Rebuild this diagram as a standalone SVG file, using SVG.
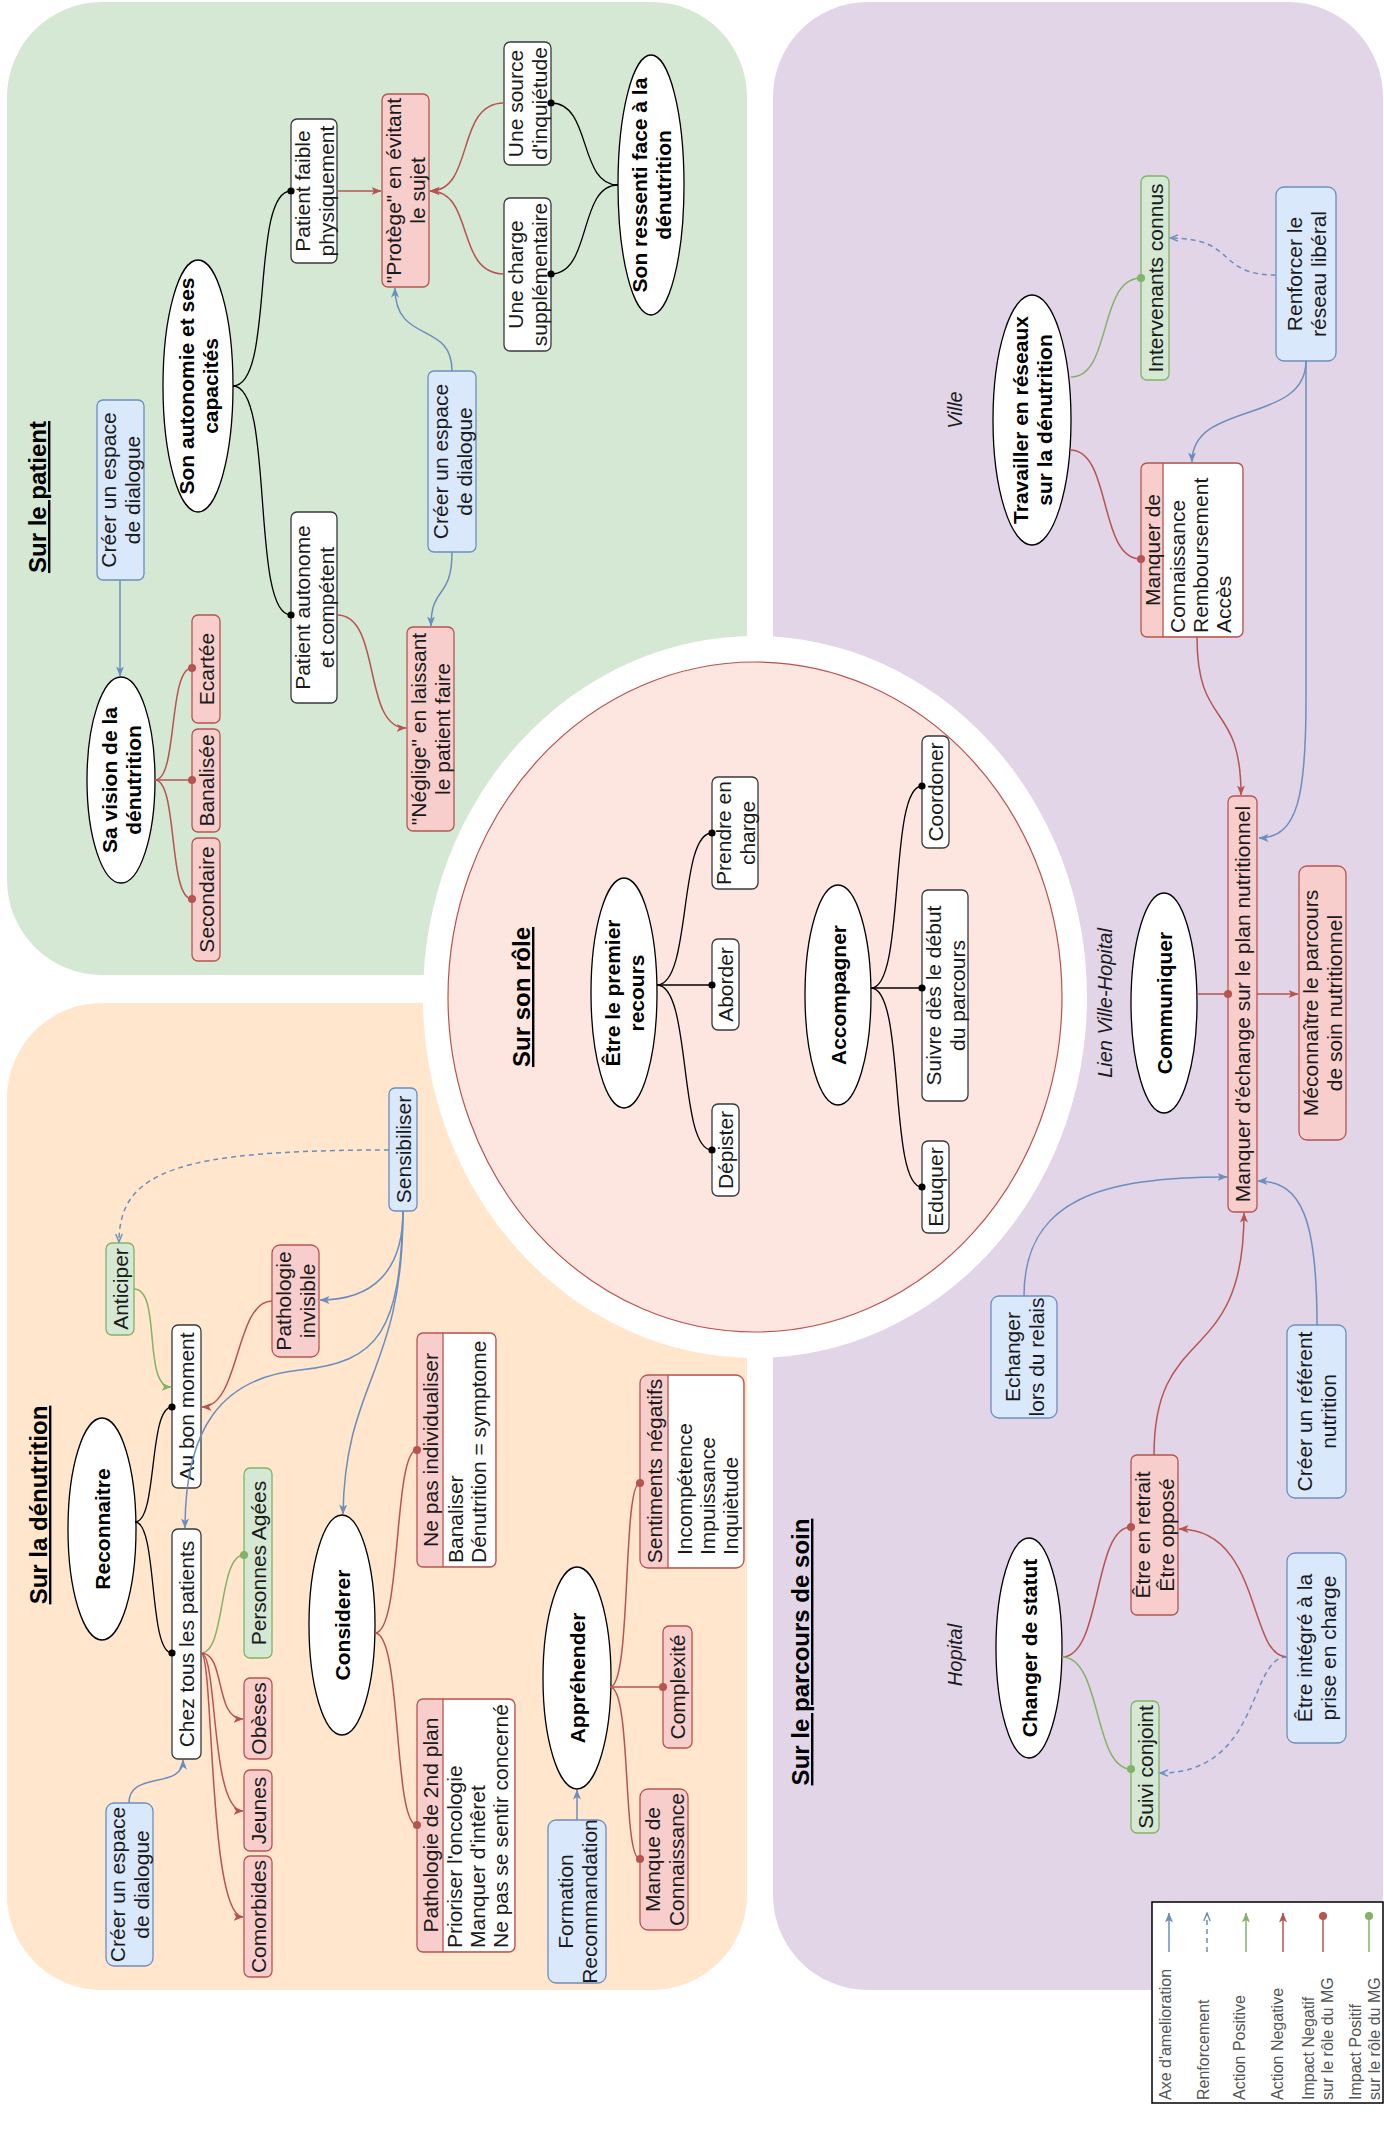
<svg xmlns="http://www.w3.org/2000/svg" width="1384" height="2134" viewBox="0 0 1384 2134">
<style>
.t{font-family:"Liberation Sans",Arial,sans-serif;font-size:21px;fill:#1a1a1a;text-anchor:middle}
.ts{font-family:"Liberation Sans",Arial,sans-serif;font-size:21px;fill:#1a1a1a;text-anchor:start}
.tb{font-family:"Liberation Sans",Arial,sans-serif;font-size:21px;font-weight:bold;fill:#000;text-anchor:middle}
.ti{font-family:"Liberation Sans",Arial,sans-serif;font-size:20px;font-style:italic;fill:#1a1a1a;text-anchor:middle}
.title{font-family:"Liberation Sans",Arial,sans-serif;font-size:24px;font-weight:bold;fill:#000;text-anchor:middle;text-decoration:underline}
.lg{font-family:"Liberation Sans",Arial,sans-serif;font-size:16px;fill:#555;text-anchor:start}
.r{fill:#f8cecc;stroke:#b85450;stroke-width:1.3}
.b{fill:#dae8fc;stroke:#6c8ebf;stroke-width:1.3}
.g{fill:#d5e8d4;stroke:#82b366;stroke-width:1.3}
.w{fill:#fff;stroke:#36393d;stroke-width:1.3}
.e{fill:#fff;stroke:#000;stroke-width:1.3}
.cb{fill:none;stroke:#6c8ebf;stroke-width:1.5}
.cr{fill:none;stroke:#b85450;stroke-width:1.5}
.cg{fill:none;stroke:#82b366;stroke-width:1.5}
.ck{fill:none;stroke:#000;stroke-width:1.3}
.dash{stroke-dasharray:5 4}
</style>
<defs>
<marker id="aB" viewBox="0 0 10 8" refX="9.5" refY="4" markerWidth="10" markerHeight="8" markerUnits="userSpaceOnUse" orient="auto"><path d="M0,0 L10,4 L0,8 L2.5,4 z" fill="#6c8ebf"/></marker>
<marker id="aR" viewBox="0 0 10 8" refX="9.5" refY="4" markerWidth="10" markerHeight="8" markerUnits="userSpaceOnUse" orient="auto"><path d="M0,0 L10,4 L0,8 L2.5,4 z" fill="#b85450"/></marker>
<marker id="aG" viewBox="0 0 10 8" refX="9.5" refY="4" markerWidth="10" markerHeight="8" markerUnits="userSpaceOnUse" orient="auto"><path d="M0,0 L10,4 L0,8 L2.5,4 z" fill="#82b366"/></marker>
<marker id="oB" viewBox="0 0 10 8" refX="9" refY="4" markerWidth="10" markerHeight="8" markerUnits="userSpaceOnUse" orient="auto"><path d="M1,0.8 L9,4 L1,7.2" fill="none" stroke="#6c8ebf" stroke-width="1.4"/></marker>
<marker id="dR" viewBox="0 0 10 10" refX="5" refY="5" markerWidth="9" markerHeight="9" markerUnits="userSpaceOnUse"><circle cx="5" cy="5" r="4.5" fill="#b85450"/></marker>
<marker id="dG" viewBox="0 0 10 10" refX="5" refY="5" markerWidth="9" markerHeight="9" markerUnits="userSpaceOnUse"><circle cx="5" cy="5" r="4.5" fill="#82b366"/></marker>
<marker id="dK" viewBox="0 0 10 10" refX="5" refY="5" markerWidth="8" markerHeight="8" markerUnits="userSpaceOnUse"><circle cx="5" cy="5" r="4.5" fill="#000"/></marker>
</defs>

<g id="panels">
<rect x="7" y="2" width="740" height="973" rx="95" fill="#d5e8d4"/>
<rect x="7" y="1003" width="740" height="987" rx="95" fill="#ffe6cc"/>
<rect x="773" y="2" width="610" height="1988" rx="95" fill="#e1d5e7"/>
<ellipse cx="755" cy="997" rx="332" ry="361" fill="#fff"/>
<ellipse cx="755" cy="997" rx="307" ry="335" fill="#fde5e0" stroke="#b85450" stroke-width="1.2"/>
</g>

<!-- Sur le patient -->
<g id="title-patient"><text class="title" transform="translate(46,497) rotate(-90)">Sur le patient</text></g>
<g id="n-creer1"><rect class="b" x="97" y="400" width="47" height="180" rx="6"/><text class="t" transform="translate(120.5,490) rotate(-90)"><tspan x="0" y="-4.5">Créer un espace</tspan><tspan x="0" y="19.5">de dialogue</tspan></text></g>
<g id="n-vision"><ellipse class="e" cx="121" cy="780" rx="34" ry="103"/><text class="tb" transform="translate(121,780) rotate(-90)"><tspan x="0" y="-4.5">Sa vision de la</tspan><tspan x="0" y="19.5">dénutrition</tspan></text></g>
<g id="n-ecartee"><rect class="r" x="192" y="615" width="28" height="108" rx="6"/><text class="t" transform="translate(206,669) rotate(-90)" y="7.5">Ecartée</text></g>
<g id="n-banalisee"><rect class="r" x="192" y="729" width="28" height="103" rx="6"/><text class="t" transform="translate(206,780.5) rotate(-90)" y="7.5">Banalisée</text></g>
<g id="n-secondaire"><rect class="r" x="192" y="838" width="28" height="123" rx="6"/><text class="t" transform="translate(206,899.5) rotate(-90)" y="7.5">Secondaire</text></g>
<g id="n-autonomie"><ellipse class="e" cx="198" cy="386" rx="35" ry="126"/><text class="tb" transform="translate(198,386) rotate(-90)"><tspan x="0" y="-4.5">Son autonomie et ses</tspan><tspan x="0" y="19.5">capacités</tspan></text></g>
<g id="n-faible"><rect class="w" x="291" y="119" width="46" height="144" rx="6"/><text class="t" transform="translate(314,191) rotate(-90)"><tspan x="0" y="-4.5">Patient faible</tspan><tspan x="0" y="19.5">physiquement</tspan></text></g>
<g id="n-autonome"><rect class="w" x="291" y="512" width="46" height="191" rx="6"/><text class="t" transform="translate(314,607.5) rotate(-90)"><tspan x="0" y="-4.5">Patient autonome</tspan><tspan x="0" y="19.5">et compétent</tspan></text></g>
<g id="n-protege"><rect class="r" x="382" y="94" width="47" height="193" rx="6"/><text class="t" transform="translate(405.5,190.5) rotate(-90)"><tspan x="0" y="-4.5">"Protège" en évitant</tspan><tspan x="0" y="19.5">le sujet</tspan></text></g>
<g id="n-creer2"><rect class="b" x="428" y="371" width="48" height="181" rx="6"/><text class="t" transform="translate(452,461.5) rotate(-90)"><tspan x="0" y="-4.5">Créer un espace</tspan><tspan x="0" y="19.5">de dialogue</tspan></text></g>
<g id="n-neglige"><rect class="r" x="407" y="627" width="47" height="204" rx="6"/><text class="t" transform="translate(430.5,729) rotate(-90)"><tspan x="0" y="-4.5">"Néglige" en laissant</tspan><tspan x="0" y="19.5">le patient faire</tspan></text></g>
<g id="n-charge"><rect class="w" x="504" y="198" width="47" height="153" rx="6"/><text class="t" transform="translate(527.5,274.5) rotate(-90)"><tspan x="0" y="-4.5">Une charge</tspan><tspan x="0" y="19.5">supplémentaire</tspan></text></g>
<g id="n-source"><rect class="w" x="504" y="42" width="47" height="123" rx="6"/><text class="t" transform="translate(527.5,103.5) rotate(-90)"><tspan x="0" y="-4.5">Une source</tspan><tspan x="0" y="19.5">d'inquiétude</tspan></text></g>
<g id="n-ressenti"><ellipse class="e" cx="651" cy="185" rx="33" ry="130"/><text class="tb" transform="translate(651,185) rotate(-90)"><tspan x="0" y="-4.5">Son ressenti face à la</tspan><tspan x="0" y="19.5">dénutrition</tspan></text></g>

<!-- Sur son role -->
<g id="title-role"><text class="title" transform="translate(530,997) rotate(-90)">Sur son rôle</text></g>
<g id="n-recours"><ellipse class="e" cx="624" cy="993" rx="33" ry="115"/><text class="tb" transform="translate(624,993) rotate(-90)"><tspan x="0" y="-4.5">Être le premier</tspan><tspan x="0" y="19.5">recours</tspan></text></g>
<g id="n-prendre"><rect class="w" x="712" y="777" width="46" height="112" rx="6"/><text class="t" transform="translate(735,833) rotate(-90)"><tspan x="0" y="-4.5">Prendre en</tspan><tspan x="0" y="19.5">charge</tspan></text></g>
<g id="n-aborder"><rect class="w" x="712" y="939" width="27" height="91" rx="6"/><text class="t" transform="translate(725.5,984.5) rotate(-90)" y="7.5">Aborder</text></g>
<g id="n-depister"><rect class="w" x="712" y="1104" width="27" height="92" rx="6"/><text class="t" transform="translate(725.5,1150) rotate(-90)" y="7.5">Dépister</text></g>
<g id="n-accompagner"><ellipse class="e" cx="838" cy="995" rx="33" ry="110"/><text class="tb" transform="translate(838,995) rotate(-90)" y="7.5">Accompagner</text></g>
<g id="n-coordoner"><rect class="w" x="922" y="736" width="27" height="112" rx="6"/><text class="t" transform="translate(935.5,792) rotate(-90)" y="7.5">Coordoner</text></g>
<g id="n-suivre"><rect class="w" x="922" y="890" width="46" height="211" rx="6"/><text class="t" transform="translate(945,995.5) rotate(-90)"><tspan x="0" y="-4.5">Suivre dès le début</tspan><tspan x="0" y="19.5">du parcours</tspan></text></g>
<g id="n-eduquer"><rect class="w" x="922" y="1141" width="27" height="92" rx="6"/><text class="t" transform="translate(935.5,1187) rotate(-90)" y="7.5">Eduquer</text></g>

<!-- Sur le parcours de soin -->
<g id="lbl-ville"><text class="ti" transform="translate(955,410) rotate(-90)" y="7">Ville</text></g>
<g id="n-reseaux"><ellipse class="e" cx="1032" cy="420" rx="39" ry="125"/><text class="tb" transform="translate(1032,420) rotate(-90)"><tspan x="0" y="-4.5">Travailler en réseaux</tspan><tspan x="0" y="19.5">sur la dénutrition</tspan></text></g>
<g id="n-intervenants"><rect class="g" x="1141" y="176" width="28" height="204" rx="6"/><text class="t" transform="translate(1155,278) rotate(-90)" y="7.5">Intervenants connus</text></g>
<g id="n-renforcer"><rect class="b" x="1276" y="187" width="60" height="174" rx="8"/><text class="t" transform="translate(1306,274) rotate(-90)"><tspan x="0" y="-4.5">Renforcer le</tspan><tspan x="0" y="19.5">réseau libéral</tspan></text></g>
<g id="n-manquerde">
<rect x="1141" y="463" width="102" height="174" rx="6" fill="#f8cecc"/>
<rect x="1163" y="464" width="79" height="172" rx="5" fill="#fff"/>
<rect x="1163" y="464" width="10" height="172" fill="#fff"/>
<line x1="1163" y1="463" x2="1163" y2="637" stroke="#b85450" stroke-width="1.3"/>
<rect x="1141" y="463" width="102" height="174" rx="6" fill="none" stroke="#b85450" stroke-width="1.3"/>
<text class="t" transform="translate(1152,550) rotate(-90)" y="7.5">Manquer de</text>
<text class="ts" transform="translate(1177,633) rotate(-90)"><tspan x="0" y="7.5">Connaissance</tspan><tspan x="0" y="30.5">Remboursement</tspan><tspan x="0" y="53.5">Accès</tspan></text>
</g>
<g id="n-echange"><rect class="r" x="1228" y="796" width="29" height="416" rx="6"/><text class="t" transform="translate(1242.5,1004) rotate(-90)" y="7.5">Manquer d'échange sur le plan nutritionnel</text></g>
<g id="n-communiquer"><ellipse class="e" cx="1164" cy="1003" rx="33" ry="110"/><text class="tb" transform="translate(1164,1003) rotate(-90)" y="7.5">Communiquer</text></g>
<g id="lbl-lien"><text class="ti" transform="translate(1105,1003) rotate(-90)" y="7">Lien Ville-Hopital</text></g>
<g id="n-meconnaitre"><rect class="r" x="1299" y="866" width="47" height="274" rx="8"/><text class="t" transform="translate(1322.5,1003) rotate(-90)"><tspan x="0" y="-4.5">Méconnaître le parcours</tspan><tspan x="0" y="19.5">de soin nutritionnel</tspan></text></g>
<g id="n-echanger"><rect class="b" x="991" y="1296" width="66" height="122" rx="8"/><text class="t" transform="translate(1024,1357) rotate(-90)"><tspan x="0" y="-4.5">Echanger</tspan><tspan x="0" y="19.5">lors du relais</tspan></text></g>
<g id="n-referent"><rect class="b" x="1287" y="1325" width="59" height="173" rx="8"/><text class="t" transform="translate(1316.5,1411.5) rotate(-90)"><tspan x="0" y="-4.5">Créer un référent</tspan><tspan x="0" y="19.5">nutrition</tspan></text></g>
<g id="n-retrait"><rect class="r" x="1131" y="1455" width="47" height="160" rx="6"/><text class="t" transform="translate(1154.5,1535) rotate(-90)"><tspan x="0" y="-4.5">Être en retrait</tspan><tspan x="0" y="19.5">Être opposé</tspan></text></g>
<g id="n-statut"><ellipse class="e" cx="1029" cy="1648" rx="33" ry="110"/><text class="tb" transform="translate(1029,1648) rotate(-90)" y="7.5">Changer de statut</text></g>
<g id="n-suivi"><rect class="g" x="1131" y="1701" width="28" height="132" rx="6"/><text class="t" transform="translate(1145,1767) rotate(-90)" y="7.5">Suivi conjoint</text></g>
<g id="n-integre"><rect class="b" x="1287" y="1553" width="59" height="190" rx="8"/><text class="t" transform="translate(1316.5,1648) rotate(-90)"><tspan x="0" y="-4.5">Être intégré à la</tspan><tspan x="0" y="19.5">prise en charge</tspan></text></g>
<g id="lbl-hopital"><text class="ti" transform="translate(955,1655) rotate(-90)" y="7">Hopital</text></g>
<g id="title-parcours"><text class="title" transform="translate(809,1652) rotate(-90)">Sur le parcours de soin</text></g>

<!-- Sur la dénutrition -->
<g id="title-denutrition"><text class="title" transform="translate(47,1505) rotate(-90)">Sur la dénutrition</text></g>
<g id="n-reconnaitre"><ellipse class="e" cx="102" cy="1529" rx="34" ry="111"/><text class="tb" transform="translate(102,1529) rotate(-90)" y="7.5">Reconnaitre</text></g>
<g id="n-bonmoment"><rect class="w" x="172" y="1325" width="29" height="163" rx="6"/><text class="t" transform="translate(186.5,1406.5) rotate(-90)" y="7.5">Au bon moment</text></g>
<g id="n-tous"><rect class="w" x="172" y="1529" width="29" height="230" rx="6"/><text class="t" transform="translate(186.5,1644) rotate(-90)" y="7.5">Chez tous les patients</text></g>
<g id="n-anticiper"><rect class="g" x="106" y="1243" width="28" height="92" rx="6"/><text class="t" transform="translate(120,1289) rotate(-90)" y="7.5">Anticiper</text></g>
<g id="n-sensibiliser"><rect class="b" x="389" y="1088" width="28" height="123" rx="6"/><text class="t" transform="translate(403,1149.5) rotate(-90)" y="7.5">Sensibiliser</text></g>
<g id="n-invisible"><rect class="r" x="272" y="1245" width="47" height="112" rx="8"/><text class="t" transform="translate(295.5,1301) rotate(-90)"><tspan x="0" y="-4.5">Pathologie</tspan><tspan x="0" y="19.5">invisible</tspan></text></g>
<g id="n-agees"><rect class="g" x="244" y="1468" width="28" height="190" rx="6"/><text class="t" transform="translate(258,1563) rotate(-90)" y="7.5">Personnes Agées</text></g>
<g id="n-obeses"><rect class="r" x="244" y="1678" width="28" height="81" rx="6"/><text class="t" transform="translate(258,1718.5) rotate(-90)" y="7.5">Obèses</text></g>
<g id="n-jeunes"><rect class="r" x="244" y="1770" width="28" height="81" rx="6"/><text class="t" transform="translate(258,1810.5) rotate(-90)" y="7.5">Jeunes</text></g>
<g id="n-comorbides"><rect class="r" x="244" y="1856" width="28" height="121" rx="6"/><text class="t" transform="translate(258,1916.5) rotate(-90)" y="7.5">Comorbides</text></g>
<g id="n-creer3"><rect class="b" x="106" y="1803" width="47" height="163" rx="8"/><text class="t" transform="translate(129.5,1884.5) rotate(-90)"><tspan x="0" y="-4.5">Créer un espace</tspan><tspan x="0" y="19.5">de dialogue</tspan></text></g>
<g id="n-considerer"><ellipse class="e" cx="342" cy="1625" rx="33" ry="110"/><text class="tb" transform="translate(342,1625) rotate(-90)" y="7.5">Considerer</text></g>
<g id="n-individualiser">
<rect x="417" y="1333" width="79" height="234" rx="6" fill="#f8cecc"/>
<rect x="443" y="1334" width="52" height="232" rx="5" fill="#fff"/>
<rect x="443" y="1334" width="10" height="232" fill="#fff"/>
<line x1="443" y1="1333" x2="443" y2="1567" stroke="#b85450" stroke-width="1.3"/>
<rect x="417" y="1333" width="79" height="234" rx="6" fill="none" stroke="#b85450" stroke-width="1.3"/>
<text class="t" transform="translate(430,1450) rotate(-90)" y="7.5">Ne pas individualiser</text>
<text class="ts" transform="translate(455,1563) rotate(-90)"><tspan x="0" y="7.5">Banaliser</tspan><tspan x="0" y="30.5">Dénutrition = symptome</tspan></text>
</g>
<g id="n-secondplan">
<rect x="417" y="1699" width="98" height="253" rx="6" fill="#f8cecc"/>
<rect x="443" y="1700" width="71" height="251" rx="5" fill="#fff"/>
<rect x="443" y="1700" width="10" height="251" fill="#fff"/>
<line x1="443" y1="1699" x2="443" y2="1952" stroke="#b85450" stroke-width="1.3"/>
<rect x="417" y="1699" width="98" height="253" rx="6" fill="none" stroke="#b85450" stroke-width="1.3"/>
<text class="t" transform="translate(430,1825) rotate(-90)" y="7.5">Pathologie de 2nd plan</text>
<text class="ts" transform="translate(454,1948) rotate(-90)"><tspan x="0" y="7.5">Prioriser l'oncologie</tspan><tspan x="0" y="30.5">Manquer d'intêret</tspan><tspan x="0" y="53.5">Ne pas se sentir concerné</tspan></text>
</g>
<g id="n-apprehender"><ellipse class="e" cx="577" cy="1678" rx="34" ry="111"/><text class="tb" transform="translate(577,1678) rotate(-90)" y="7.5">Appréhender</text></g>
<g id="n-formation"><rect class="b" x="548" y="1820" width="58" height="163" rx="8"/><text class="t" transform="translate(577,1901.5) rotate(-90)"><tspan x="0" y="-4.5">Formation</tspan><tspan x="0" y="19.5">Recommandation</tspan></text></g>
<g id="n-complexite"><rect class="r" x="663" y="1626" width="29" height="122" rx="6"/><text class="t" transform="translate(677.5,1687) rotate(-90)" y="7.5">Complexité</text></g>
<g id="n-manque"><rect class="r" x="640" y="1789" width="48" height="141" rx="8"/><text class="t" transform="translate(664,1859.5) rotate(-90)"><tspan x="0" y="-4.5">Manque de</tspan><tspan x="0" y="19.5">Connaissance</tspan></text></g>
<g id="n-sentiments">
<rect x="640" y="1375" width="104" height="193" rx="8" fill="#f8cecc"/>
<rect x="668" y="1376" width="75" height="191" rx="7" fill="#fff"/>
<rect x="668" y="1376" width="10" height="191" fill="#fff"/>
<line x1="668" y1="1375" x2="668" y2="1568" stroke="#b85450" stroke-width="1.3"/>
<rect x="640" y="1375" width="104" height="193" rx="8" fill="none" stroke="#b85450" stroke-width="1.3"/>
<text class="t" transform="translate(654,1471) rotate(-90)" y="7.5">Sentiments négatifs</text>
<text class="ts" transform="translate(684,1555) rotate(-90)"><tspan x="0" y="7.5">Incompétence</tspan><tspan x="0" y="30.5">Impuissance</tspan><tspan x="0" y="53.5">Inquiètude</tspan></text>
</g>

<g id="connectors">
<path class="cb" d="M120,580 L120,676" marker-end="url(#aB)"/>
<path class="cr" d="M155,780 C178,780 168,668 192,668" marker-end="url(#dR)"/>
<path class="cr" d="M155,780 L192,780" marker-end="url(#dR)"/>
<path class="cr" d="M155,780 C178,780 168,899 192,899" marker-end="url(#dR)"/>
<path class="ck" d="M233,386 C275,386 250,191 291,191" marker-end="url(#dK)"/>
<path class="ck" d="M233,386 C275,386 250,615 291,615" marker-end="url(#dK)"/>
<path class="cr" d="M337,191 L381,191" marker-end="url(#aR)"/>
<path class="cr" d="M504,103 C455,103 475,191 430,191" marker-end="url(#aR)"/>
<path class="cr" d="M504,274 C455,274 475,191 430,191" marker-end="url(#aR)"/>
<path class="ck" d="M618,185 C578,185 592,103 551,103" marker-end="url(#dK)"/>
<path class="ck" d="M618,185 C578,185 592,274 551,274" marker-end="url(#dK)"/>
<path class="cb" d="M452,371 C452,320 395,345 395,288" marker-end="url(#aB)"/>
<path class="cb" d="M452,552 C452,600 431,585 431,626" marker-end="url(#aB)"/>
<path class="cr" d="M337,615 C382,615 362,728 406,728" marker-end="url(#aR)"/>

<path class="ck" d="M657,985 C692,985 678,833 712,833" marker-end="url(#dK)"/>
<path class="ck" d="M657,985 L712,985" marker-end="url(#dK)"/>
<path class="ck" d="M657,985 C692,985 678,1150 712,1150" marker-end="url(#dK)"/>
<path class="ck" d="M871,988 C906,988 888,786 922,786" marker-end="url(#dK)"/>
<path class="ck" d="M871,988 L922,988" marker-end="url(#dK)"/>
<path class="ck" d="M871,988 C906,988 888,1187 922,1187" marker-end="url(#dK)"/>

<path class="cg" d="M1071,377 C1112,377 1098,278 1141,278" marker-end="url(#dG)"/>
<path class="cb dash" d="M1276,275 C1215,275 1238,238 1170,238" marker-end="url(#oB)"/>
<path class="cb" d="M1306,361 C1306,425 1192,400 1192,462" marker-end="url(#aB)"/>
<path class="cb" d="M1306,361 L1306,700 C1306,795 1298,838 1259,838" marker-end="url(#aB)"/>
<path class="cr" d="M1070,450 C1112,450 1098,559 1141,559" marker-end="url(#dR)"/>
<path class="cr" d="M1197,637 C1197,730 1241,700 1241,795" marker-end="url(#aR)"/>
<path class="cr" d="M1197,994 L1228,994" marker-end="url(#dR)"/>
<path class="cr" d="M1257,994 L1298,994" marker-end="url(#aR)"/>
<path class="cb" d="M1024,1296 C1024,1200 1100,1177 1227,1177" marker-end="url(#aB)"/>
<path class="cb" d="M1317,1325 C1317,1220 1302,1181 1258,1181" marker-end="url(#aB)"/>
<path class="cr" d="M1154,1455 C1154,1320 1244,1370 1244,1213" marker-end="url(#aR)"/>
<path class="cr" d="M1062,1657 C1102,1657 1093,1527 1131,1527" marker-end="url(#dR)"/>
<path class="cg" d="M1062,1657 C1102,1657 1093,1769 1131,1769" marker-end="url(#dG)"/>
<path class="cr" d="M1287,1657 C1248,1657 1262,1529 1179,1529" marker-end="url(#aR)"/>
<path class="cb dash" d="M1287,1657 C1248,1657 1262,1773 1160,1773" marker-end="url(#oB)"/>

<path class="ck" d="M135,1522 C158,1522 148,1407 172,1407" marker-end="url(#dK)"/>
<path class="ck" d="M135,1522 C158,1522 148,1653 172,1653" marker-end="url(#dK)"/>
<path class="cg" d="M134,1289 C162,1289 142,1387 171,1387" marker-end="url(#aG)"/>
<path class="cb dash" d="M389,1150 C180,1150 119,1170 119,1242" marker-end="url(#oB)"/>
<path class="cb" d="M403,1211 C403,1272 372,1300 320,1300" marker-end="url(#aB)"/>
<path class="cb" d="M403,1211 C400,1330 380,1362 300,1370 C220,1378 185,1430 185,1528" marker-end="url(#aB)"/>
<path class="cb" d="M403,1211 C403,1372 345,1380 343,1514" marker-end="url(#aB)"/>
<path class="cr" d="M272,1301 C235,1301 240,1407 202,1407" marker-end="url(#aR)"/>
<path class="cg" d="M201,1653 C226,1653 218,1555 244,1555" marker-end="url(#dG)"/>
<path class="cr" d="M201,1653 C226,1653 214,1719 243,1719" marker-end="url(#aR)"/>
<path class="cr" d="M201,1653 C218,1653 210,1811 243,1811" marker-end="url(#aR)"/>
<path class="cr" d="M201,1653 C214,1653 208,1917 243,1917" marker-end="url(#aR)"/>
<path class="cb" d="M129,1803 C129,1770 183,1790 183,1760" marker-end="url(#aB)"/>
<path class="cr" d="M375,1633 C402,1633 393,1450 417,1450" marker-end="url(#dR)"/>
<path class="cr" d="M375,1633 C402,1633 393,1825 417,1825" marker-end="url(#dR)"/>
<path class="cb" d="M577,1820 L577,1790" marker-end="url(#aB)"/>
<path class="cr" d="M610,1687 C632,1687 622,1483 640,1483" marker-end="url(#dR)"/>
<path class="cr" d="M610,1687 L663,1687" marker-end="url(#dR)"/>
<path class="cr" d="M610,1687 C632,1687 622,1859 640,1859" marker-end="url(#dR)"/>
</g>

<g id="legend">
<rect x="1152" y="1902" width="231" height="201" fill="#fff" stroke="#000" stroke-width="1.5"/>
<path class="cb" d="M1169,1952 L1169,1913" marker-end="url(#aB)"/>
<path class="cb dash" d="M1207,1952 L1207,1913" marker-end="url(#oB)"/>
<path class="cg" d="M1246,1952 L1246,1913" marker-end="url(#aG)"/>
<path class="cr" d="M1283,1952 L1283,1913" marker-end="url(#aR)"/>
<path class="cr" d="M1323,1952 L1323,1916" marker-end="url(#dR)"/>
<path class="cg" d="M1369,1952 L1369,1916" marker-end="url(#dG)"/>
<text class="lg" transform="translate(1165,2100) rotate(-90)" y="5.5">Axe d'amelioration</text>
<text class="lg" transform="translate(1203,2100) rotate(-90)" y="5.5">Renforcement</text>
<text class="lg" transform="translate(1239,2100) rotate(-90)" y="5.5">Action Positive</text>
<text class="lg" transform="translate(1277,2100) rotate(-90)" y="5.5">Action Negative</text>
<text class="lg" transform="translate(1308,2100) rotate(-90)"><tspan x="0" y="5.5">Impact Negatif</tspan><tspan x="0" y="24.5">sur le rôle du MG</tspan></text>
<text class="lg" transform="translate(1355,2100) rotate(-90)"><tspan x="0" y="5.5">Impact Positif</tspan><tspan x="0" y="24.5">sur le rôle du MG</tspan></text>
</g>
</svg>
